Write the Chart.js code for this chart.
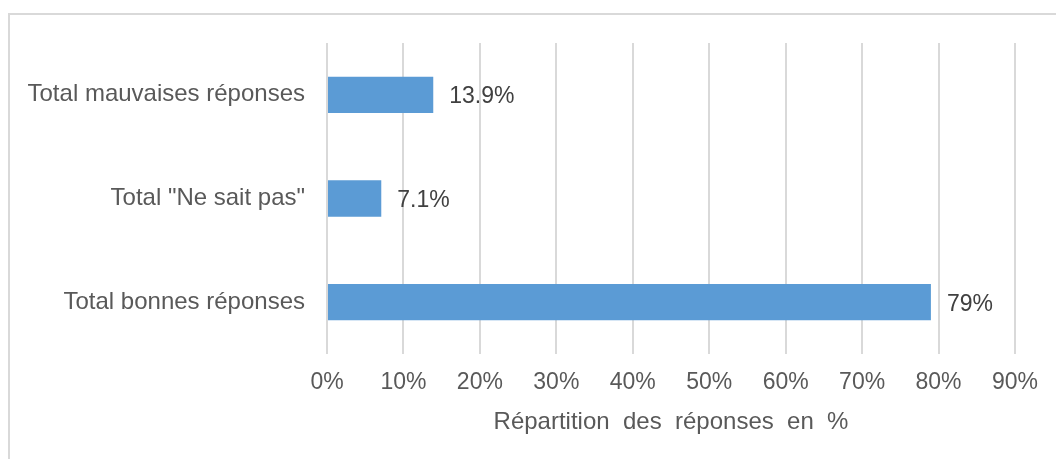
<!DOCTYPE html>
<html>
<head>
<meta charset="utf-8">
<script src="https://cdn.jsdelivr.net/npm/chart.js@4/dist/chart.umd.min.js"></script>
<style>
  html, body { margin: 0; padding: 0; background: #fff; }
  #wrap { position: relative; width: 1056px; height: 459px; }
</style>
</head>
<body>
<div id="wrap"><canvas id="chart" width="1056" height="459"></canvas></div>
<script>
// values
const categories = ['Total mauvaises réponses', 'Total "Ne sait pas"', 'Total bonnes réponses'];
const shares = [13.9, 7.1, 79];
const shareLabels = ['13.9%', '7.1%', '79%'];
const axisTitle = 'Répartition  des  réponses  en  %';

const font = "'Liberation Sans', Arial, sans-serif";

// light grey frame around the chart, as in the spreadsheet export
const framePlugin = {
    id: 'frame',
    beforeDraw(chart) {
        const c = chart.ctx;
        c.save();
        c.strokeStyle = '#d9d9d9';
        c.lineWidth = 2;
        c.strokeRect(9, 14, 1100, 500);
        c.restore();
    }
};

// value labels at the end of each bar
const valueLabels = {
    id: 'valueLabels',
    afterDatasetsDraw(chart) {
        const c = chart.ctx;
        const meta = chart.getDatasetMeta(0);
        c.save();
        c.font = '23px ' + font;
        c.fillStyle = '#404040';
        c.textAlign = 'left';
        c.textBaseline = 'middle';
        meta.data.forEach((bar, i) => {
            c.fillText(shareLabels[i], bar.x + 16, bar.y + 2);
        });
        c.restore();
    }
};

new Chart(document.getElementById('chart'), {
    type: 'bar',
    data: {
        labels: categories,
        datasets: [{
            data: shares,
            backgroundColor: '#5b9bd5',
            borderWidth: 0,
            categoryPercentage: 1,
            barPercentage: 0.35
        }]
    },
    options: {
        indexAxis: 'y',
        responsive: false,
        animation: false,
        events: [],
        layout: { padding: { left: 0, top: 43, right: 41, bottom: 0 } },
        plugins: {
            legend: { display: false },
            tooltip: { enabled: false }
        },
        scales: {
            x: {
                min: 0,
                max: 90,
                grid: { color: '#d9d9d9', lineWidth: 2, drawTicks: false },
                border: { display: false },
                ticks: {
                    stepSize: 10,
                    padding: 15,
                    color: '#595959',
                    font: { family: font, size: 23 },
                    callback: v => v + '%'
                },
                title: {
                    display: true,
                    text: axisTitle,
                    color: '#595959',
                    font: { family: font, size: 24 },
                    padding: { top: 6, bottom: 22 }
                },
                afterFit(scale) { scale.height = 105; }
            },
            y: {
                grid: { display: false, drawTicks: false },
                border: { display: false },
                ticks: {
                    padding: 22,
                    color: '#595959',
                    font: { family: font, size: 24 }
                },
                afterFit(scale) { scale.width = 327; }
            }
        }
    },
    plugins: [framePlugin, valueLabels]
});
</script>
</body>
</html>
